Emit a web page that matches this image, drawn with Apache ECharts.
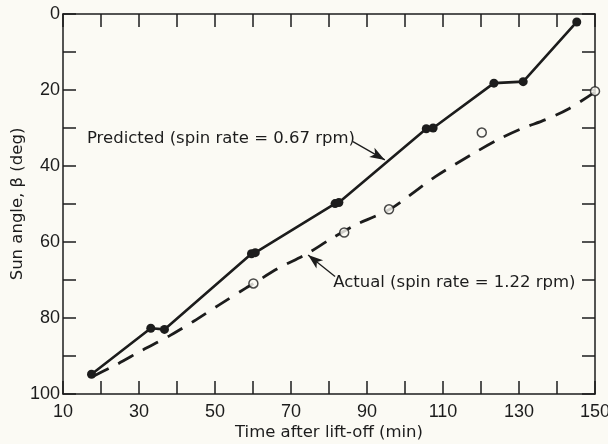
<!DOCTYPE html>
<html>
<head>
<meta charset="utf-8">
<script src="https://cdn.jsdelivr.net/npm/echarts@6/dist/echarts.min.js"></script>
<style>
  html, body { margin: 0; padding: 0; background: #fbfaf4; }
  #chart { width: 608px; height: 444px; }
</style>
</head>
<body>
<div id="chart"></div>
<script>
// predicted sun angle (spin rate 0.67 rpm), filled dots
const predictedTime  = [17.5, 33.1, 36.7, 59.6, 60.6, 81.6, 82.6, 105.6, 107.4, 123.4, 131.1, 145.2]
const predictedAngle = [94.8, 82.7, 83.0, 63.1, 62.8, 49.9, 49.6, 30.2, 30.0, 18.2, 17.8, 2.1]

// measured points (spin rate 1.22 rpm), open circles
const actualTime  = [60.1, 84.0, 95.8, 120.2, 150]
const actualAngle = [70.9, 57.5, 51.4, 31.2, 20.3]

const curveTime  = [18, 24, 31, 38, 44.5, 51, 58, 60, 66.7, 74, 80, 87, 92, 96, 99, 108, 117.5, 124.6, 130.6, 137, 143, 150]
const curveAngle = [95.3, 92.3, 88.4, 84.7, 80.8, 76.6, 72.2, 71, 66.9, 63.2, 59.5, 55.5, 53.3, 51.4, 49.4, 42.8, 37, 33, 30.2, 27.8, 25, 20.5]

const xTicks = [10, 30, 50, 70, 90, 110, 130, 150]
const yTicks = [0, 20, 40, 60, 80, 100]

const NUM_FONT = 'Liberation Sans, Arial, sans-serif'
const FONT = 'DejaVu Sans, sans-serif'
const INK = '#1c1c1c'
const BG = '#fbfaf4'

const zip = (a, b) => a.map((v, i) => [v, b[i]])

const baseX = {
    type: 'value', min: 10, max: 150, interval: 10,
    axisLine: { show: true, onZero: false, lineStyle: { color: INK, width: 1.5 } },
    axisTick: { show: true, inside: true, length: 13, lineStyle: { color: INK, width: 1.5 } },
    splitLine: { show: false }
}
const baseY = {
    type: 'value', min: 0, max: 100, interval: 10, inverse: true,
    axisLine: { show: true, onZero: false, lineStyle: { color: INK, width: 1.5 } },
    axisTick: { show: true, inside: true, length: 13, lineStyle: { color: INK, width: 1.5 } },
    splitLine: { show: false }
}

const arrowEnd = { symbol: 'arrow', symbolSize: [8, 15] }

const chart = echarts.init(document.getElementById('chart'))

const option = {
    backgroundColor: BG,
    animation: false,
    grid: { left: 63, right: 13, top: 14, bottom: 50, containLabel: false, outerBoundsMode: 'none' },
    xAxis: [
        Object.assign({}, baseX, {
            position: 'bottom',
            name: 'Time after lift-off (min)',
            nameLocation: 'middle',
            nameGap: 30,
            nameMoveOverlap: false,
            nameTextStyle: { fontFamily: FONT, fontSize: 16.5, color: INK },
            axisLabel: {
                margin: 9, fontFamily: NUM_FONT, fontSize: 18, color: INK,
                formatter: v => xTicks.indexOf(v) >= 0 ? String(v) : ''
            }
        }),
        Object.assign({}, baseX, { position: 'top', axisLabel: { show: false } })
    ],
    yAxis: [
        Object.assign({}, baseY, {
            position: 'left',
            name: 'Sun angle, β (deg)',
            nameLocation: 'middle',
            nameGap: 37,
            nameMoveOverlap: false,
            nameRotate: 90,
            nameTextStyle: { fontFamily: FONT, fontSize: 16.5, color: INK },
            axisLabel: {
                margin: 3, fontFamily: NUM_FONT, fontSize: 18, color: INK,
                formatter: v => yTicks.indexOf(v) >= 0 ? String(v) : ''
            }
        }),
        Object.assign({}, baseY, { position: 'right', axisLabel: { show: false } })
    ],
    series: [
        {
            name: 'Actual curve',
            type: 'line',
            data: zip(curveTime, curveAngle),
            smooth: 0.3,
            showSymbol: false,
            symbol: 'none',
            clip: false,
            lineStyle: { color: INK, width: 2.8, type: [17, 11] },
            z: 2
        },
        {
            name: 'Predicted',
            type: 'line',
            data: zip(predictedTime, predictedAngle),
            symbol: 'circle',
            symbolSize: 9,
            itemStyle: { color: INK },
            lineStyle: { color: INK, width: 2.6 },
            markLine: {
                silent: true,
                symbol: ['none', 'arrow'],
                label: { show: false },
                emphasis: { disabled: true },
                lineStyle: { color: INK, width: 1.3, type: 'solid' },
                data: [
                    [Object.assign({ coord: [81.6, 69.1] }, { symbol: 'none' }), Object.assign({ coord: [74.5, 63.4] }, arrowEnd)],
                    [Object.assign({ coord: [86.3, 33.6] }, { symbol: 'none' }), Object.assign({ coord: [94.7, 38.4] }, arrowEnd)]
                ]
            },
            z: 3
        },
        {
            name: 'Actual',
            type: 'scatter',
            data: zip(actualTime, actualAngle),
            symbol: 'circle',
            symbolSize: 9,
            clip: false,
            itemStyle: { color: BG, borderColor: INK, borderWidth: 1.5 },
            z: 4
        }
    ]
}

chart.setOption(option)

// text labels anchored at data positions
const predAt = chart.convertToPixel({ gridIndex: 0 }, [16.3, 32.9])
const actAt = chart.convertToPixel({ gridIndex: 0 }, [81.1, 70.8])

chart.setOption({
    graphic: [
        {
            type: 'text', x: predAt[0], y: predAt[1],
            style: { text: 'Predicted (spin rate = 0.67 rpm)', font: '16.5px ' + FONT, fill: INK, verticalAlign: 'middle', align: 'left' }
        },
        {
            type: 'text', x: actAt[0], y: actAt[1],
            style: { text: 'Actual (spin rate = 1.22 rpm)', font: '16.5px ' + FONT, fill: INK, verticalAlign: 'middle', align: 'left' }
        }
    ]
})
</script>
</body>
</html>
